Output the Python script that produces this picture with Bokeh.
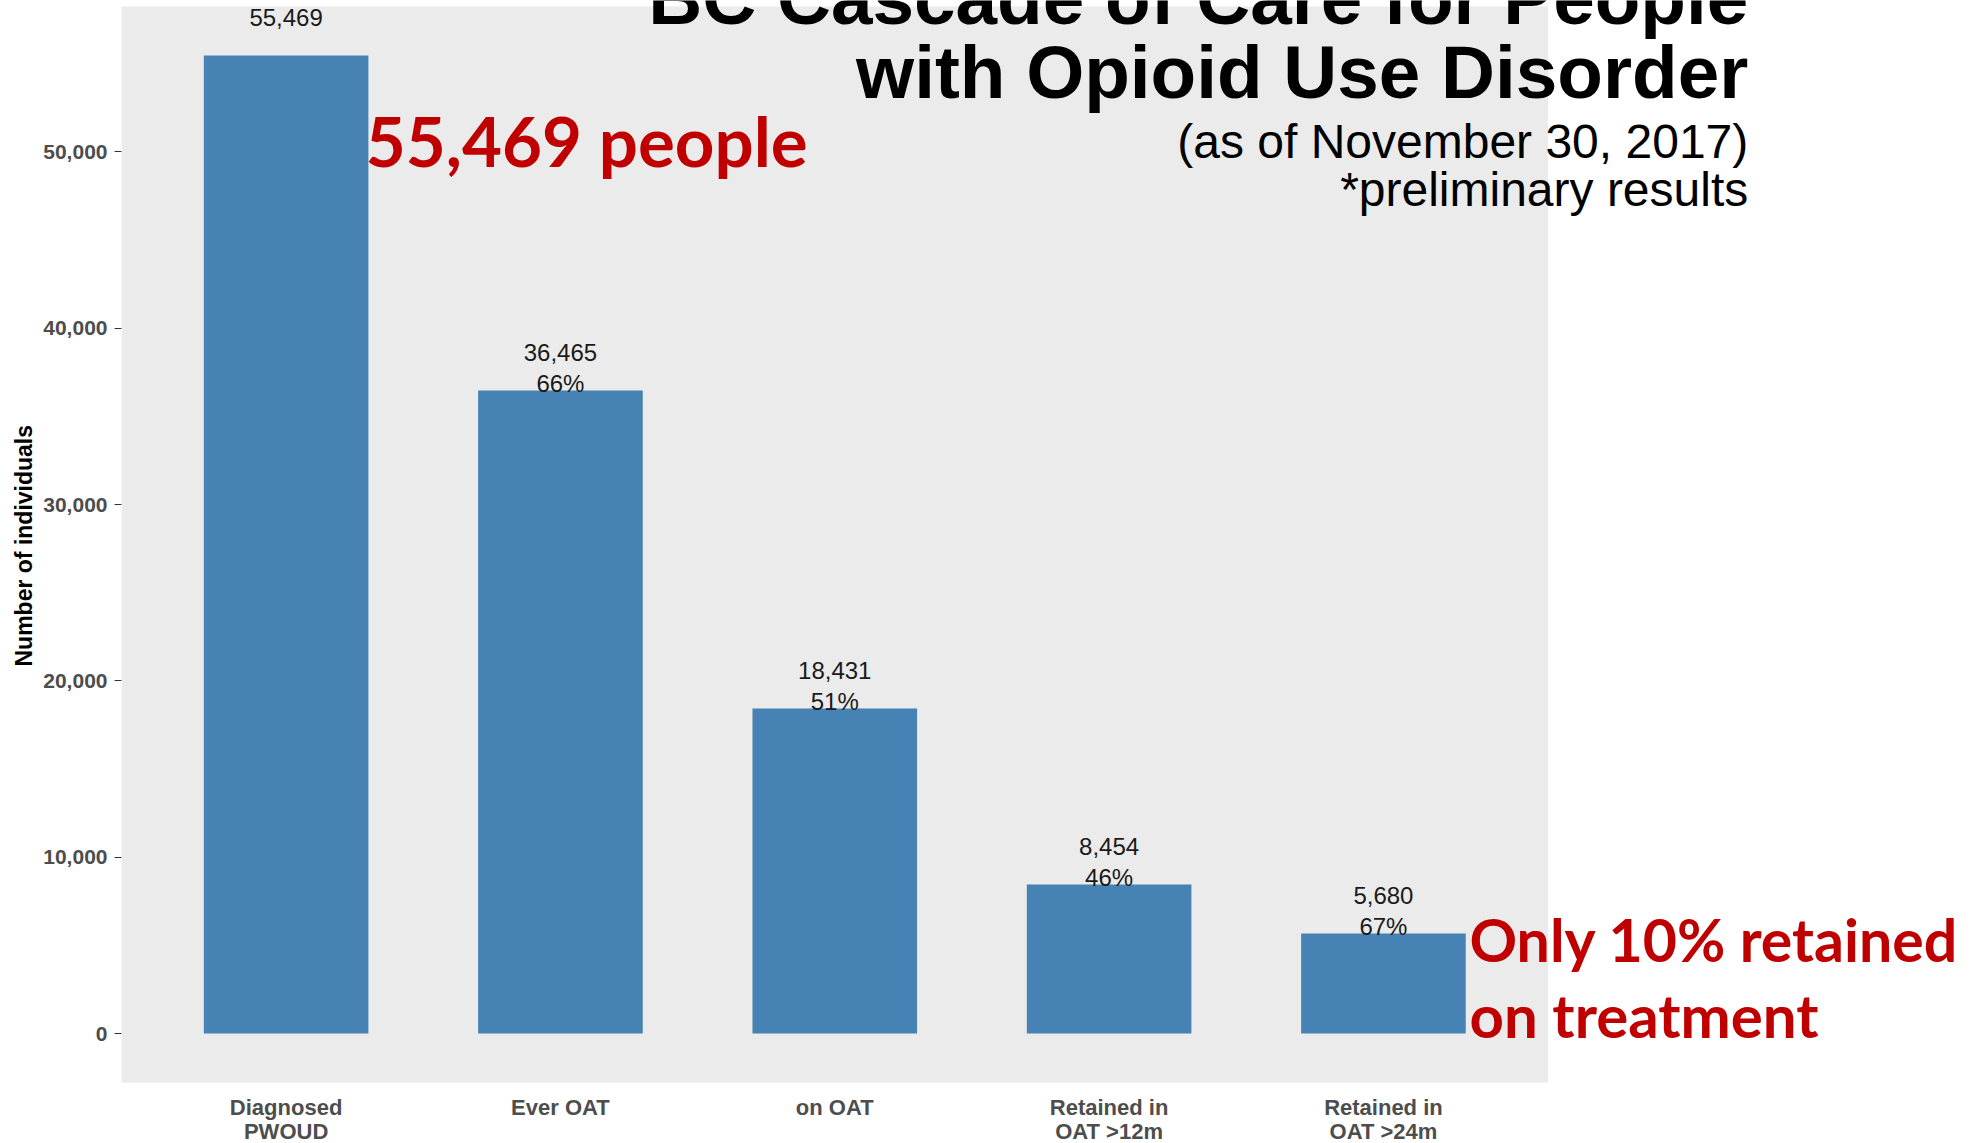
from bokeh.plotting import figure
from bokeh.models import Range1d, FixedTicker, NumeralTickFormatter, ColumnDataSource, Title
from bokeh.embed import file_html
from bokeh.resources import INLINE
from bokeh.core.properties import value

# ---- data ----
categories = ["Diagnosed\nPWOUD", "Ever OAT", "on OAT", "Retained in\nOAT >12m", "Retained in\nOAT >24m"]
counts = [55469, 36465, 18431, 8454, 5680]
percents = [None, 66, 51, 46, 67]
y_ticks = [0, 10000, 20000, 30000, 40000, 50000]

title_lines = ["BC Cascade of Care for People", "with Opioid Use Disorder"]
subtitle_lines = ["(as of November 30, 2017)", "*preliminary results"]
callout_top = "55,469 people"
callout_bottom = ["Only 10% retained", "on treatment"]

# ---- layout (page pixels) ----
W, H = 1978, 1143
PANEL_L, PANEL_T, PANEL_R, PANEL_B = 123, 6, 1548, 1082
BORDER_L = 121

xs = list(range(1, len(categories) + 1))
x0, x1 = 0.4, len(categories) + 0.6
ymax = max(counts)
pad = 0.05 * ymax
y0, y1 = -pad, ymax + pad

kx = (PANEL_R - PANEL_L) / (x1 - x0)   # px per x unit
ky = (PANEL_B - PANEL_T) / (y1 - y0)   # px per y unit

def fx(px):   # page px -> data x
    return x0 + (px - PANEL_L) / kx

def fy(py):   # page px -> data y
    return y1 - (py - PANEL_T) / ky

count_labels = [f"{c:,}" for c in counts]
pct_labels = ["" if v is None else f"{v}%" for v in percents]
cat_line1 = [c.split("\n")[0] for c in categories]
cat_line2 = [c.split("\n")[1] if "\n" in c else "" for c in categories]
source = ColumnDataSource(dict(x=xs, top=counts, cl=count_labels, pl=pct_labels,
                               c1=cat_line1, c2=cat_line2, base=[y0] * len(xs)))

p = figure(width=W, height=H, output_backend="svg", toolbar_location=None,
           x_axis_type=None,
           x_range=Range1d(x0, fx(W)), y_range=Range1d(fy(H), fy(0)),
           min_border_left=BORDER_L, min_border_right=0, min_border_top=0, min_border_bottom=0)

p.background_fill_color = "white"
p.border_fill_color = "white"
p.outline_line_color = None
p.grid.grid_line_color = None

# grey plotting panel
p.quad(left=[x0], right=[x1], bottom=[y0], top=[y1], fill_color="#EBEBEB", line_color=None)

p.vbar(x="x", top="top", bottom=0, width=0.6, source=source,
       fill_color="#4682B4", line_color=None)

lab = dict(text_align="center", text_baseline="middle",
           text_font=value("Liberation Sans"), text_font_size="24px", text_color="#1a1a1a")
p.text(x="x", y="top", text="cl", source=source, y_offset=-38, **lab)
p.text(x="x", y="top", text="pl", source=source, y_offset=-7, **lab)

# category labels below the panel
cat = dict(text_align="center", text_baseline="middle",
           text_font=value("Liberation Sans"), text_font_style="bold",
           text_font_size="22px", text_color="#4D4D4D")
p.text(x="x", y="base", text="c1", source=source, y_offset=25, **cat)
p.text(x="x", y="base", text="c2", source=source, y_offset=49, **cat)

# y axis
p.yaxis.ticker = FixedTicker(ticks=y_ticks)
p.yaxis.formatter = NumeralTickFormatter(format="0,0")
p.yaxis.major_tick_out = 7
p.yaxis.major_tick_in = 0
p.yaxis.major_tick_line_color = "#333333"
p.yaxis.minor_tick_line_color = None
p.yaxis.axis_line_color = None
p.yaxis.major_label_standoff = 7
p.yaxis.major_label_text_font = "Liberation Sans"
p.yaxis.major_label_text_font_style = "bold"
p.yaxis.major_label_text_font_size = "21px"
p.yaxis.major_label_text_color = "#4D4D4D"

p.add_layout(Title(text="Number of individuals", align="left", offset=477, standoff=8,
                   text_font="Liberation Sans", text_font_style="bold",
                   text_font_size="23px", text_color="black"), "left")

# annotations (positions in page pixels)
def add_text(txt, px, py, size, color, font, style, align):
    p.text(x=[fx(px)], y=[fy(py)], text=[txt], text_align=align,
           text_baseline="middle", text_font=value(font), text_font_style=style,
           text_font_size=size, text_color=color)

for txt, py in zip(title_lines, [-3, 71]):
    add_text(txt, 1748, py, "74.7px", "black", "Liberation Sans", "bold", "right")
for txt, py in zip(subtitle_lines, [140.5, 188.5]):
    add_text(txt, 1748, py, "48px", "black", "Liberation Sans", "normal", "right")

add_text(callout_top, 367, 140, "69px", "#C00000", "Lato", "bold", "left")
add_text(callout_bottom[0], 1469.5, 939, "59px", "#C00000", "Lato", "bold", "left")
add_text(callout_bottom[1], 1469.5, 1014, "60px", "#C00000", "Lato", "bold", "left")

open("out.html", "w").write(file_html(p, INLINE))
